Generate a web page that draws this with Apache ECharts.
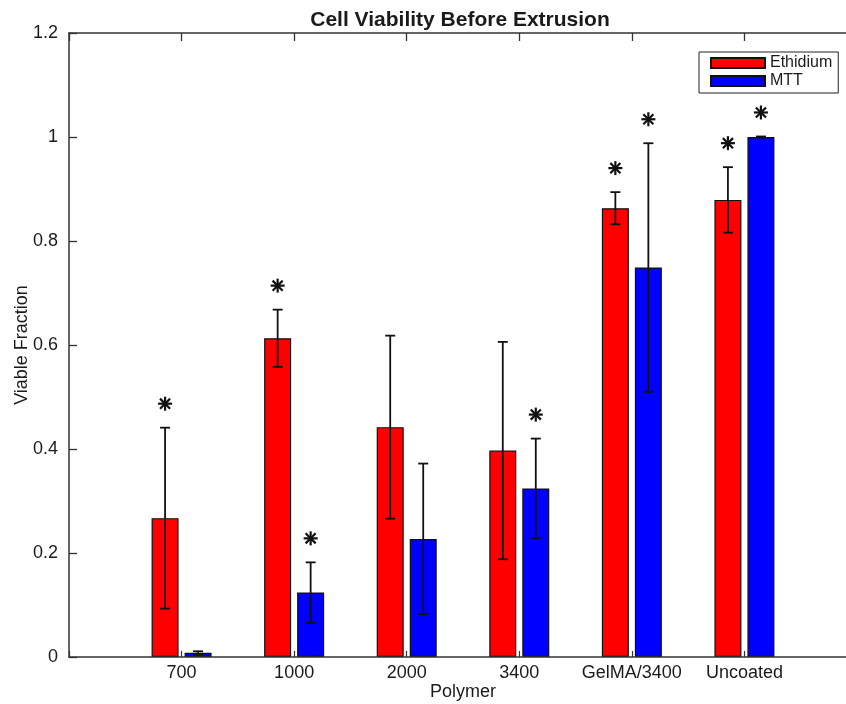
<!DOCTYPE html>
<html>
<head>
<meta charset="utf-8">
<script src="https://cdn.jsdelivr.net/npm/echarts@6/dist/echarts.min.js"></script>
<style>
  html, body { margin: 0; padding: 0; background: #ffffff; }
  #chart { width: 846px; height: 704px; }
</style>
</head>
<body>
<div id="chart"></div>
<script>
// ---- data ----
const categories = ['700', '1000', '2000', '3400', 'GelMA/3400', 'Uncoated'];
const seriesNames = ['Ethidium', 'MTT'];
const ethidium = [0.267, 0.613, 0.442, 0.397, 0.863, 0.879];
const ethidiumErr = [0.174, 0.055, 0.176, 0.209, 0.031, 0.063];
const mtt = [0.008, 0.124, 0.227, 0.324, 0.749, 1.0];
const mttErr = [0.003, 0.058, 0.145, 0.096, 0.239, 0.001];
const ethidiumStar = [1, 1, 0, 0, 1, 1];
const mttStar = [0, 1, 0, 1, 1, 1];
const yTicks = [0, 0.2, 0.4, 0.6, 0.8, 1, 1.2];

// ---- build ----
const FONT = '"Liberation Sans", Arial, Helvetica, sans-serif';
const TXT = '#1a1a1a';
const AXC = '#333333';
const BAR_W = 27;
const BAR_GAP_PX = 6;
const OFFSET = (BAR_W + BAR_GAP_PX) / 2;

const axisCats = [''].concat(categories, ['']);
const pad = arr => [null].concat(arr, [null]);

function errData(vals, errs) {
  return vals.map((v, i) => [i + 1, v, errs[i]]);
}
function starData(vals, errs, flags) {
  const out = [];
  vals.forEach((v, i) => { if (flags[i]) out.push([i + 1, v + errs[i]]); });
  return out;
}

function errRender(sign) {
  return function (params, api) {
    const idx = api.value(0);
    const m = api.value(1);
    const e = api.value(2);
    const x = api.coord([idx, m])[0] + sign * OFFSET;
    const yHi = api.coord([idx, m + e])[1];
    const yLo = api.coord([idx, m - e])[1];
    const cap = 5;
    const st = { stroke: '#111', lineWidth: 1.8 };
    return {
      type: 'group',
      children: [
        { type: 'line', shape: { x1: x, y1: yHi, x2: x, y2: yLo }, style: st },
        { type: 'line', shape: { x1: x - cap, y1: yHi, x2: x + cap, y2: yHi }, style: st },
        { type: 'line', shape: { x1: x - cap, y1: yLo, x2: x + cap, y2: yLo }, style: st }
      ]
    };
  };
}
function starRender(sign) {
  return function (params, api) {
    const idx = api.value(0);
    const top = api.value(1);
    const p = api.coord([idx, top]);
    const cx = p[0] + sign * OFFSET;
    const cy = p[1] - 24;
    const r = 7, d = r * 0.72;
    const st = { stroke: '#111', lineWidth: 2.2 };
    return {
      type: 'group',
      children: [
        { type: 'line', shape: { x1: cx, y1: cy - r, x2: cx, y2: cy + r }, style: st },
        { type: 'line', shape: { x1: cx - r, y1: cy, x2: cx + r, y2: cy }, style: st },
        { type: 'line', shape: { x1: cx - d, y1: cy - d, x2: cx + d, y2: cy + d }, style: st },
        { type: 'line', shape: { x1: cx - d, y1: cy + d, x2: cx + d, y2: cy - d }, style: st }
      ]
    };
  };
}

const chart = echarts.init(document.getElementById('chart'), null, { renderer: 'canvas' });
const option = {
  backgroundColor: '#ffffff',
  animation: false,
  textStyle: { fontFamily: FONT, color: TXT },
  title: {
    text: 'Cell Viability Before Extrusion',
    left: 455,
    textAlign: 'center',
    top: 5,
    textStyle: { fontFamily: FONT, fontWeight: 'bold', fontSize: 21, color: TXT }
  },
  legend: {
    data: seriesNames,
    orient: 'vertical',
    left: 699,
    top: 52,
    padding: [3, 6, 4, 11],
    itemGap: 2,
    itemWidth: 54,
    itemHeight: 10,
    icon: 'rect',
    borderColor: '#222',
    borderWidth: 1,
    backgroundColor: '#fff',
    textStyle: { fontFamily: FONT, fontSize: 16, color: TXT, lineHeight: 14 }
  },
  grid: { left: 69, right: -11, top: 33, bottom: 47, containLabel: false, outerBoundsMode: 'none' },
  xAxis: [
    {
      type: 'category',
      data: axisCats,
      boundaryGap: false,
      position: 'bottom',
      name: 'Polymer',
      nameLocation: 'middle',
      nameGap: 26,
      nameMoveOverlap: false,
      nameTextStyle: { fontFamily: FONT, fontSize: 18, color: TXT },
      axisLine: { show: true, onZero: false, lineStyle: { color: AXC, width: 1.5 } },
      axisTick: { show: true, inside: true, length: 6, lineStyle: { color: AXC, width: 1.2 } },
      axisLabel: { show: true, margin: 7, fontFamily: FONT, fontSize: 18, color: TXT, interval: 0 },
      splitLine: { show: false },
      z: 10
    },
    {
      type: 'category',
      data: axisCats,
      boundaryGap: false,
      position: 'top',
      axisLine: { show: true, onZero: false, lineStyle: { color: AXC, width: 1.5 } },
      axisTick: { show: true, inside: true, length: 8, lineStyle: { color: AXC, width: 1.3 } },
      axisLabel: { show: false },
      splitLine: { show: false }
    }
  ],
  yAxis: [
    {
      type: 'value',
      min: yTicks[0],
      max: yTicks[yTicks.length - 1],
      interval: 0.2,
      position: 'left',
      name: 'Viable Fraction',
      nameLocation: 'middle',
      nameGap: 38,
      nameMoveOverlap: false,
      nameTextStyle: { fontFamily: FONT, fontSize: 18, color: TXT },
      axisLine: { show: true, onZero: false, lineStyle: { color: AXC, width: 1.5 } },
      axisTick: { show: true, inside: true, length: 8, lineStyle: { color: AXC, width: 1.3 } },
      axisLabel: { margin: 11, fontFamily: FONT, fontSize: 18, color: TXT,
        formatter: v => String(Math.round(v * 10) / 10) },
      splitLine: { show: false }
    },
    {
      type: 'value',
      min: yTicks[0],
      max: yTicks[yTicks.length - 1],
      interval: 0.2,
      position: 'right',
      axisLine: { show: true, onZero: false, lineStyle: { color: AXC, width: 1.5 } },
      axisTick: { show: true, inside: true, length: 8 },
      axisLabel: { show: false },
      splitLine: { show: false }
    }
  ],
  series: [
    {
      name: seriesNames[0],
      type: 'bar',
      data: pad(ethidium),
      barWidth: BAR_W,
      barGap: (BAR_GAP_PX / BAR_W * 100) + '%',
      itemStyle: { color: '#ff0000', borderColor: '#111', borderWidth: 1.2 },
      z: 2
    },
    {
      name: seriesNames[1],
      type: 'bar',
      data: pad(mtt),
      barWidth: BAR_W,
      barGap: (BAR_GAP_PX / BAR_W * 100) + '%',
      itemStyle: { color: '#0000ff', borderColor: '#111', borderWidth: 1.2 },
      z: 2
    },
    {
      type: 'custom',
      renderItem: errRender(-1),
      data: errData(ethidium, ethidiumErr),
      encode: { x: 0, y: [1] },
      z: 5, silent: true
    },
    {
      type: 'custom',
      renderItem: errRender(1),
      data: errData(mtt, mttErr),
      encode: { x: 0, y: [1] },
      z: 5, silent: true
    },
    {
      type: 'custom',
      renderItem: starRender(-1),
      data: starData(ethidium, ethidiumErr, ethidiumStar),
      encode: { x: 0, y: 1 },
      z: 5, silent: true
    },
    {
      type: 'custom',
      renderItem: starRender(1),
      data: starData(mtt, mttErr, mttStar),
      encode: { x: 0, y: 1 },
      z: 5, silent: true
    }
  ]
};
chart.setOption(option);
</script>
</body>
</html>
